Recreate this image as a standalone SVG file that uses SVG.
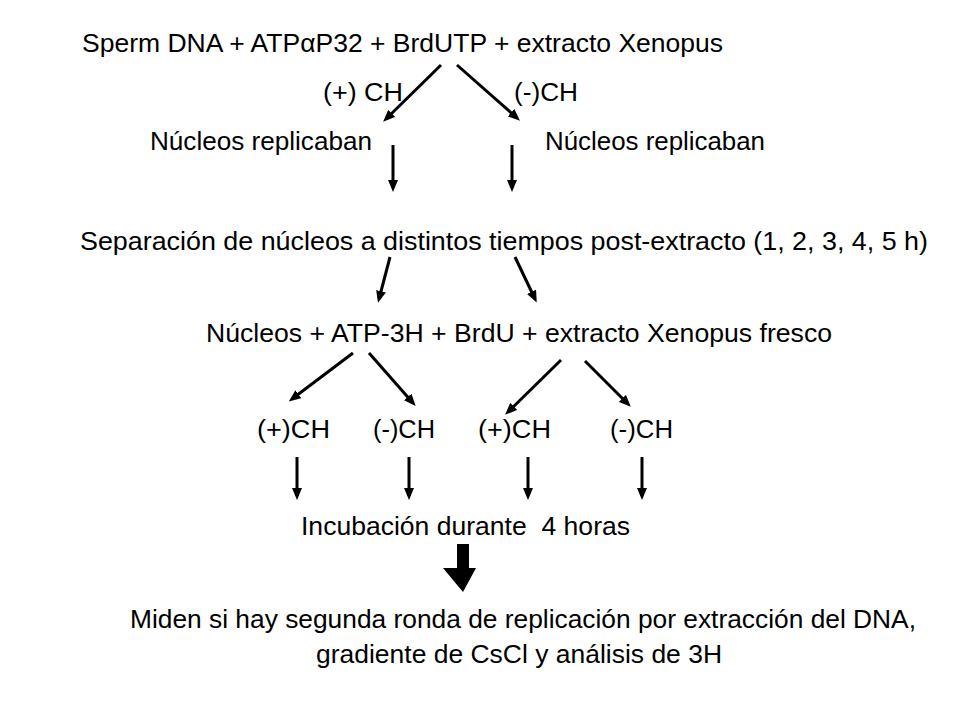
<svg xmlns="http://www.w3.org/2000/svg" width="960" height="720" viewBox="0 0 960 720">
<style>
text{font-family:"Liberation Sans","DejaVu Sans",sans-serif;font-size:26px;fill:#000}
.c line{stroke:#000;stroke-width:3;marker-end:url(#ah)}
</style>
<defs>
<marker id="ah" markerUnits="userSpaceOnUse" markerWidth="12" markerHeight="10" refX="8" refY="5" orient="auto" viewBox="0 0 12 10">
<path d="M0,0 L12,5 L0,10 Z" fill="#000"/>
</marker>
</defs>
<rect width="960" height="720" fill="#fff"/>
<g id="n-start"><text x="82" y="52" textLength="641" lengthAdjust="spacingAndGlyphs">Sperm DNA + ATPαP32 + BrdUTP + extracto Xenopus</text></g>
<g id="l-plus"><text x="323" y="101" textLength="80" lengthAdjust="spacingAndGlyphs">(+) CH</text></g>
<g id="l-minus"><text x="514" y="101" textLength="64" lengthAdjust="spacingAndGlyphs">(-)CH</text></g>
<g id="n-rep1"><text x="150" y="150" textLength="222" lengthAdjust="spacingAndGlyphs">Núcleos replicaban</text></g>
<g id="n-rep2"><text x="545" y="150" textLength="220" lengthAdjust="spacingAndGlyphs">Núcleos replicaban</text></g>
<g id="n-sep"><text x="80" y="250" textLength="848" lengthAdjust="spacingAndGlyphs">Separación de núcleos a distintos tiempos post-extracto (1, 2, 3, 4, 5 h)</text></g>
<g id="n-nuc"><text x="206" y="342" textLength="626" lengthAdjust="spacingAndGlyphs">Núcleos + ATP-3H + BrdU + extracto Xenopus fresco</text></g>
<g id="n-ch1"><text x="257" y="438" textLength="73" lengthAdjust="spacingAndGlyphs">(+)CH</text></g>
<g id="n-ch2"><text x="373" y="438" textLength="62" lengthAdjust="spacingAndGlyphs">(-)CH</text></g>
<g id="n-ch3"><text x="478" y="438" textLength="73" lengthAdjust="spacingAndGlyphs">(+)CH</text></g>
<g id="n-ch4"><text x="610" y="438" textLength="63" lengthAdjust="spacingAndGlyphs">(-)CH</text></g>
<g id="n-inc"><text x="301" y="535" textLength="329" lengthAdjust="spacingAndGlyphs" xml:space="preserve">Incubación durante  4 horas</text></g>
<g id="n-end">
<text x="523" y="628" text-anchor="middle" textLength="786" lengthAdjust="spacingAndGlyphs">Miden si hay segunda ronda de replicación por extracción del DNA,</text>
<text x="519" y="663" text-anchor="middle" textLength="406" lengthAdjust="spacingAndGlyphs">gradiente de CsCl y análisis de 3H</text>
</g>
<g id="connectors" class="c">
<line x1="441" y1="65" x2="386" y2="119"/>
<line x1="457" y1="65" x2="517" y2="118"/>
<line x1="393" y1="145" x2="393" y2="188"/>
<line x1="512" y1="145" x2="512" y2="188"/>
<line x1="390" y1="257" x2="379" y2="299"/>
<line x1="515" y1="257" x2="535" y2="299"/>
<line x1="353" y1="353" x2="292" y2="399"/>
<line x1="369" y1="353" x2="413" y2="403"/>
<line x1="561" y1="360" x2="508" y2="412"/>
<line x1="585" y1="361" x2="628" y2="404"/>
<line x1="297" y1="457" x2="297" y2="496"/>
<line x1="409" y1="457" x2="409" y2="496"/>
<line x1="528" y1="457" x2="528" y2="496"/>
<line x1="642" y1="457" x2="642" y2="496"/>
<path d="M457,544 H469 V568 H476 L463,592 L443,568 H457 Z" fill="#000"/>
</g>
</svg>
